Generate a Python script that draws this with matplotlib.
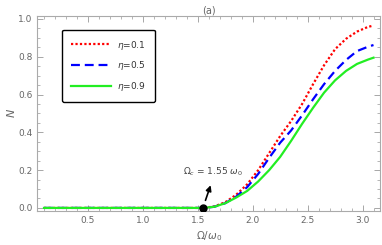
import matplotlib
matplotlib.use("Agg")
import matplotlib.pyplot as plt
from matplotlib.ticker import MultipleLocator

# Omega / omega_0
x = [0.1, 1.55, 1.65, 1.75, 1.85, 1.95, 2.05, 2.15, 2.25, 2.35, 2.45,
     2.55, 2.65, 2.75, 2.85, 2.95, 3.05, 3.1]

n_eta01 = [0.0, 0.0, 0.008, 0.03, 0.07, 0.125, 0.2, 0.29, 0.38, 0.46, 0.55,
           0.655, 0.755, 0.84, 0.895, 0.933, 0.958, 0.965]
n_eta05 = [0.0, 0.0, 0.006, 0.025, 0.06, 0.11, 0.18, 0.265, 0.345, 0.41, 0.49,
           0.575, 0.655, 0.725, 0.783, 0.83, 0.853, 0.862]
n_eta09 = [0.0, 0.0, 0.006, 0.025, 0.055, 0.09, 0.14, 0.2, 0.27, 0.355, 0.445,
           0.53, 0.61, 0.675, 0.725, 0.762, 0.785, 0.795]

labels = [r"$\eta$=0.1", r"$\eta$=0.5", r"$\eta$=0.9"]
omega_c = 1.55

gray = "#666666"

fig = plt.figure(figsize=(3.82, 2.45), dpi=100)
ax = fig.add_axes([0.098, 0.139, 0.897, 0.796])

ax.plot(x, n_eta01, color="red", lw=1.6, linestyle=(0, (1, 1)), label=labels[0])
ax.plot(x, n_eta05, color="blue", lw=1.6, linestyle=(0, (4, 2.2)), label=labels[1])
ax.plot(x, n_eta09, color="#22ee22", lw=1.6, label=labels[2])

ax.plot([omega_c], [0.0], "o", color="black", ms=5, zorder=5)
ax.annotate("", xy=(1.617, 0.12), xytext=(1.57, 0.04),
            arrowprops=dict(arrowstyle="-|>", color="black", lw=1.2,
                            mutation_scale=8, shrinkA=0, shrinkB=0))
ax.text(1.64, 0.19, r"$\Omega_c$ = 1.55 $\omega_0$", fontsize=6.5,
        color="#444444", ha="center", va="center")

ax.set_xlim(0.04, 3.16)
ax.set_ylim(-0.016, 1.016)
ax.xaxis.set_major_locator(MultipleLocator(0.5))
ax.xaxis.set_minor_locator(MultipleLocator(0.1))
ax.yaxis.set_major_locator(MultipleLocator(0.2))
ax.yaxis.set_minor_locator(MultipleLocator(0.05))
ax.set_xticks([0.5, 1.0, 1.5, 2.0, 2.5, 3.0])
ax.tick_params(which="both", direction="in", top=True, right=True,
               color="#999999", labelcolor=gray, labelsize=6.5)
ax.tick_params(which="major", length=4, width=0.6)
ax.tick_params(which="minor", length=2, width=0.5)
for s in ax.spines.values():
    s.set_color("#aaaaaa")
    s.set_linewidth(0.8)

ax.set_xlabel(r"$\Omega/\omega_0$", fontsize=7.5, color=gray, labelpad=3)
ax.set_ylabel(r"$N$", fontsize=8, color=gray, labelpad=1)
ax.set_title("(a)", fontsize=7, color=gray, pad=1)

leg = ax.legend(loc="upper left", bbox_to_anchor=(0.072, 0.93), fontsize=6.5,
                frameon=True, fancybox=True, handlelength=4.4, handletextpad=0.7,
                labelspacing=0.85, borderpad=1.0, borderaxespad=0)
leg.get_frame().set_edgecolor("black")
leg.get_frame().set_linewidth(1.0)
leg.get_frame().set_alpha(1)
for t in leg.get_texts():
    t.set_color("#333333")

fig.savefig("out.png", dpi=100)
